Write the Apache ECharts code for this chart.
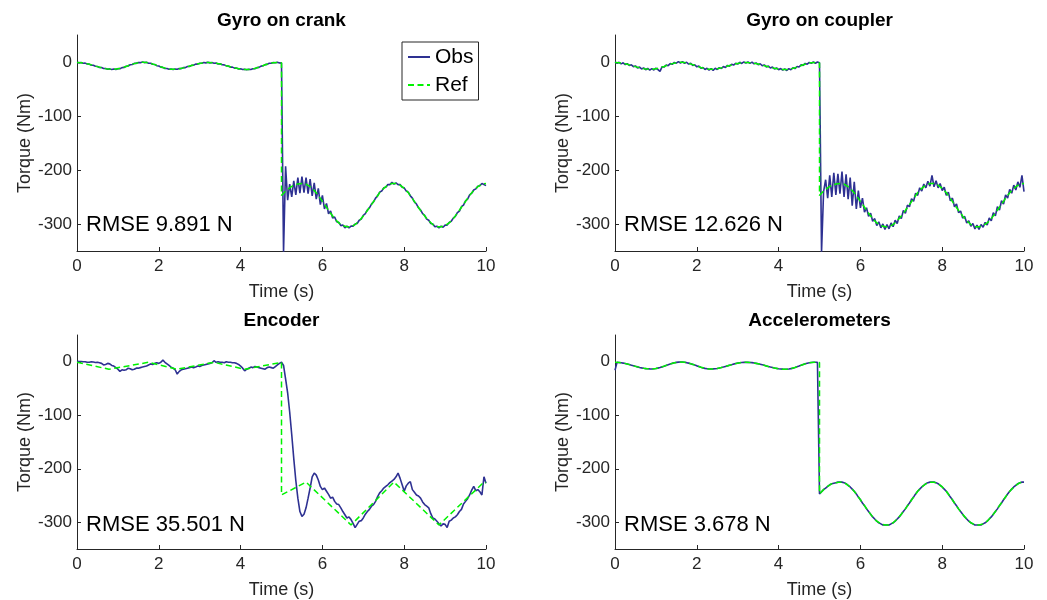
<!DOCTYPE html>
<html>
<head>
<meta charset="utf-8">
<script src="https://cdn.jsdelivr.net/npm/echarts@6/dist/echarts.min.js"></script>
<style>
html, body { margin: 0; padding: 0; background: #fff; }
#chart { width: 1047px; height: 600px; }
</style>
</head>
<body>
<div id="chart"></div>
<script>
var panelTitles = ['Gyro on crank', 'Gyro on coupler', 'Encoder', 'Accelerometers'];
var rmseLabels = ['RMSE 9.891 N', 'RMSE 12.626 N', 'RMSE 35.501 N', 'RMSE 3.678 N'];
var xTicks = [0, 2, 4, 6, 8, 10];
var yTicks = [-300, -200, -100, 0];

// reference torque, 0.1 s steps, before and after the step at t = 5 s
var refPre = [-1,-1.4,-2.5,-4.3,-6.4,-8.6,-10.6,-12.3,-13.2,-13.5,-12.7,-10.8,-8.2,-5.5,-3,-1.2,-0.5,-1,-2.6,-4.9,
	-7.7,-10.3,-12.4,-13.4,-13.4,-12.5,-10.9,-8.8,-6.6,-4.4,-2.6,-1.4,-1,-1.3,-2.3,-3.8,-5.7,-7.8,-9.9,-11.7,
	-13,-13.8,-13.9,-12.9,-10.8,-8.1,-5.2,-2.8,-1.3,-1,-1.5];
var refPost = [-247,-239,-233,-228,-226,-225,-226,-231,-238,-247,-258,-269,-280,-290,-298,-303,-305,-305,-301,-294,
	-285,-275,-264,-253,-242,-234,-228,-225,-225,-228,-234,-242,-253,-264,-275,-285,-294,-301,-305,-305,
	-303,-298,-290,-280,-269,-258,-247,-238,-231,-226,-225];

// the encoder panel shows a coarser reference
var encRefTime = [0, 0.78, 1.75, 2.45, 3.35, 4.1, 5.0, 5.0, 5.6, 6.7, 7.75, 8.85, 9.95, 10];
var encRefVal = [-1, -14, -1, -14, -1, -14, -1, -249, -225, -305, -225, -305, -225, -226];

// observed torque, 0.05 s steps (201 samples)
var crankObs = [-0.5,-1.6,-1,-2.4,-2.1,-3.8,-3.9,-5.9,-6,-8,
	-8.2,-10.1,-10.2,-12,-11.9,-13.4,-12.8,-14,-13,-13.9,
	-12.3,-12.4,-10.4,-10.1,-7.8,-7.3,-5.1,-4.7,-2.6,-2.5,
	-0.8,-1.2,-0.1,-1.1,-0.6,-2.2,-2.2,-4.2,-4.5,-6.8,
	-7.3,-9.5,-9.9,-12,-12,-13.5,-13,-14,-13,-13.5,
	-12.1,-12.3,-10.5,-10.4,-8.4,-8.2,-6.2,-6,-4,-3.9,
	-2.2,-2.4,-1,-1.6,-0.6,-1.6,-0.9,-2.2,-1.9,-3.5,
	-3.4,-5.2,-5.3,-7.2,-7.4,-9.4,-9.5,-11.3,-11.3,-12.9,
	-12.6,-14,-13.4,-14.5,-13.5,-14,-12.5,-12.4,-10.4,-10,
	-7.7,-7.1,-4.8,-4.4,-2.4,-2.4,-0.9,-1.5,-0.6,-1.7,
	-2,-352,-193,
	-256,-226,-250,-220,-246,-214,-243,-212,-242,-214,
	-244,-217,-248,-224,-254,-234,-264,-247,-272,-262,
	-281,-276,-289,-287,-296,-297,-303,-302,-307,-304,
	-307,-304,-304,-300,-299,-293,-291,-284,-281,-274,
	-270,-263,-259,-252,-248,-241,-239,-233,-232,-227,
	-227,-223,-226,-224,-227,-227,-232,-233,-239,-241,
	-248,-252,-259,-263,-270,-274,-281,-284,-291,-293,
	-299,-300,-305,-304,-307,-304,-306,-302,-302,-297,
	-295,-289,-286,-279,-276,-268,-265,-257,-254,-246,
	-243,-237,-235,-230,-229,-225,-227,-229];

var couplerObs = [0,-2.5,-0.5,-3.5,-1.5,-4.8,-3,-6.5,-5.2,-8.6,
	-7.2,-11,-9.4,-12.8,-10.9,-14.3,-12,-15,-12.3,-14.8,
	-11.5,-14,-17.5,-9,-9.4,-5.6,-6.8,-3,-4.3,-0.8,
	-2.2,0.6,-1.8,0.8,-2.4,-0.5,-3.9,-2.2,-6.3,-5,
	-9,-7.6,-11.6,-10.2,-13.8,-11.7,-15,-12.2,-15.4,-11.6,
	-13.8,-10.4,-12.1,-8.5,-10.2,-6.3,-7.9,-4.2,-5.7,-2.3,
	-3.9,-0.6,-2.7,0.1,-2.1,0.3,-2.5,-0.3,-3.5,-1.6,
	-5.1,-3.2,-7,-5.4,-9.1,-7.5,-11.2,-9.4,-13,-11,
	-14.3,-12.1,-15.2,-12.6,-15.8,-12.3,-14.2,-10.6,-12.2,-8.2,
	-9.4,-5.3,-6.5,-2.6,-4.1,-0.7,-2.6,0.2,-2.4,0,
	-1.5,-352,-240,
	-218,-252,-210,-250,-205,-246,-207,-244,-203,-250,
	-208,-254,-214,-266,-222,-272,-238,-270,-252,-278,
	-270,-286,-280,-295,-290,-303,-296,-307,-300,-310,
	-301,-309,-298,-305,-293,-299,-285,-290,-275,-280,
	-265,-268,-253,-258,-243,-247,-233,-239,-226,-233,
	-221,-230,-210,-231,-220,-233,-225,-238,-232,-247,
	-241,-257,-252,-268,-263,-279,-276,-289,-286,-298,
	-294,-304,-299,-309,-302,-310,-301,-306,-297,-302,
	-289,-294,-279,-285,-268,-274,-257,-263,-246,-252,
	-236,-243,-228,-237,-222,-232,-210,-240];

var encoderObs = [1,0.5,0.5,0,0,-1,-1,0,-0.5,-1.5,
	-1,-2,-3,-6,-5,-3,-4,-7,-8,-11,
	-14,-18,-15,-16,-15,-12,-13,-15,-14,-12,
	-12,-11,-10,-9,-8,-6,-4,-5,-3,-2,
	-3,-1,3,-1,-4,-7,-10,-12,-15,-23,
	-18,-15,-14,-13,-12,-11,-10,-11,-10,-8,
	-9,-7,-6,-5,-4,-3,-2,2,-1,0,
	-1,-1,-2,0,-1,-1,-2,-2,-3,-5,
	-8,-12,-17,-14,-12,-10,-11,-9,-10,-11,
	-12,-13,-14,-11,-10,-11,-12,-9,-6,-3,
	-1,-7,-32,-58,-94,-136,-181,-222,-255,-280,
	-289,-285,-273,-255,-236,-215,-208,-212,-221,-233,
	-239,-236,-242,-248,-255,-253,-261,-266,-267,-273,
	-280,-286,-292,-290,-295,-302,-310,-304,-298,-297,
	-292,-285,-280,-276,-270,-267,-261,-252,-245,-241,
	-236,-233,-230,-226,-223,-220,-215,-208,-218,-230,
	-242,-232,-227,-224,-239,-244,-249,-251,-255,-262,
	-267,-270,-273,-284,-292,-294,-298,-303,-307,-303,
	-304,-310,-298,-296,-292,-290,-286,-280,-276,-266,
	-261,-256,-249,-240,-233,-241,-239,-243,-249,-215,
	-227];

var accelObs = [-16,-1.1,-1.4,-1.9,-2.5,-3.3,-4.3,-5.3,-6.4,-7.5,
	-8.6,-9.6,-10.6,-11.5,-12.3,-12.8,-13.2,-13.4,-13.5,-13.2,
	-12.7,-11.9,-10.8,-9.6,-8.2,-6.8,-5.5,-4.2,-3,-2,
	-1.2,-0.7,-0.5,-0.6,-1,-1.7,-2.6,-3.7,-4.9,-6.3,
	-7.7,-9,-10.3,-11.5,-12.4,-13,-13.4,-13.5,-13.4,-13,
	-12.5,-11.8,-10.9,-9.9,-8.8,-7.7,-6.6,-5.5,-4.4,-3.4,
	-2.6,-1.9,-1.4,-1.1,-1,-1.1,-1.3,-1.7,-2.3,-3,
	-3.8,-4.7,-5.7,-6.7,-7.8,-8.9,-9.9,-10.8,-11.7,-12.4,
	-13,-13.5,-13.8,-14,-13.9,-13.5,-12.9,-11.9,-10.8,-9.5,
	-8.1,-6.6,-5.2,-3.9,-2.8,-1.9,-1.3,-1,-1,-1.2,
	-247,-243,-239,-236,-233,-230,-228,-227,-226,-225,
	-225,-225,-226,-228,-231,-234,-238,-242,-247,-253,
	-258,-264,-269,-275,-280,-285,-290,-294,-298,-301,
	-303,-305,-305,-305,-305,-303,-301,-298,-294,-290,
	-285,-280,-275,-269,-264,-258,-253,-247,-242,-238,
	-234,-231,-228,-226,-225,-225,-225,-226,-228,-231,
	-234,-238,-242,-247,-253,-258,-264,-269,-275,-280,
	-285,-290,-294,-298,-301,-303,-305,-305,-305,-305,
	-303,-301,-298,-294,-290,-285,-280,-275,-269,-264,
	-258,-253,-247,-242,-238,-234,-231,-228,-226,-225,
	-225];

var obsColor = '#2E3192',
	refColor = '#00F200',
	axisColor = '#262626',
	fontName = '"Liberation Sans", Arial, sans-serif';

// sample times
var obsTime = [];
for (var i = 0; i <= 200; i++) obsTime.push(i / 20);
var refTime = [];
for (var i = 0; i <= 50; i++) refTime.push(i / 10);
for (var i = 0; i <= 50; i++) refTime.push(5 + i / 10);
var refVals = refPre.concat(refPost);

[crankObs, couplerObs, encoderObs, accelObs].forEach(function(a, k){
	if (a.length != obsTime.length) throw new Error('obs array ' + k + ' has ' + a.length);
});

var pairs = function(t, v){
	return t.map(function(x, i){ return [x, v[i]]; });
};

var grids = [
	{left: 77, top: 35, width: 409, height: 216},
	{left: 615, top: 35, width: 409, height: 216},
	{left: 77, top: 335, width: 409, height: 216},
	{left: 615, top: 335, width: 409, height: 216}
];

var obsSets = [crankObs, couplerObs, encoderObs, accelObs];
var refSets = [pairs(refTime, refVals), pairs(refTime, refVals), pairs(encRefTime, encRefVal), pairs(refTime, refVals)];

var xAxes = [], yAxes = [], series = [], graphics = [];
grids.forEach(function(g, k){
	xAxes.push({
		type: 'value', gridIndex: k, min: 0, max: 10, interval: 2,
		name: 'Time (s)', nameLocation: 'middle', nameGap: 32,
		nameTextStyle: {fontSize: 18, color: axisColor, fontFamily: fontName},
		axisLine: {onZero: false, lineStyle: {color: axisColor, width: 1}},
		axisTick: {inside: true, length: 4, lineStyle: {color: axisColor}},
		axisLabel: {fontSize: 17, color: axisColor, fontFamily: fontName, margin: 7},
		splitLine: {show: false}
	});
	yAxes.push({
		type: 'value', gridIndex: k, min: -350, max: 50,
		name: 'Torque (Nm)', nameLocation: 'middle', nameGap: 42,
		nameTextStyle: {fontSize: 18, color: axisColor, fontFamily: fontName},
		axisLine: {show: true, onZero: false, lineStyle: {color: axisColor, width: 1}},
		axisTick: {show: true, inside: true, length: 4, lineStyle: {color: axisColor}, customValues: yTicks},
		axisLabel: {fontSize: 17, color: axisColor, fontFamily: fontName, margin: 5, customValues: yTicks},
		splitLine: {show: false}
	});
	series.push({
		name: 'Obs', type: 'line', xAxisIndex: k, yAxisIndex: k,
		data: pairs(obsTime, obsSets[k]),
		symbol: 'none', clip: true, animation: false,
		lineStyle: {color: obsColor, width: 1.6},
		itemStyle: {color: obsColor}
	});
	series.push({
		name: 'Ref', type: 'line', xAxisIndex: k, yAxisIndex: k,
		data: refSets[k],
		symbol: 'none', clip: true, animation: false,
		lineStyle: {color: refColor, width: 1.5, type: [6, 3.5]},
		itemStyle: {color: refColor}
	});
	graphics.push({
		type: 'text', x: g.left + g.width / 2, y: g.top - 14,
		style: {text: panelTitles[k], font: 'bold 19px ' + fontName, fill: '#000', align: 'center', verticalAlign: 'middle'}
	});
	graphics.push({
		type: 'text', x: g.left + 9, y: g.top + 190,
		style: {text: rmseLabels[k], font: '22px ' + fontName, fill: '#000', align: 'left', verticalAlign: 'middle'}
	});
});

var chart = echarts.init(document.getElementById('chart'), null, {renderer: 'canvas'});
chart.setOption({
	animation: false,
	backgroundColor: '#fff',
	grid: grids,
	xAxis: xAxes,
	yAxis: yAxes,
	series: series,
	graphic: graphics,
	legend: {
		data: ['Obs', 'Ref'], orient: 'vertical', left: 402, top: 42,
		padding: [4, 5, 4, 5], itemWidth: 22, itemHeight: 12, itemGap: 6,
		selectedMode: false, backgroundColor: '#fff',
		borderColor: axisColor, borderWidth: 1, borderRadius: 0,
		itemStyle: {opacity: 0},
		textStyle: {fontSize: 21, color: '#000', fontFamily: fontName, lineHeight: 22}
	}
});
</script>
</body>
</html>
